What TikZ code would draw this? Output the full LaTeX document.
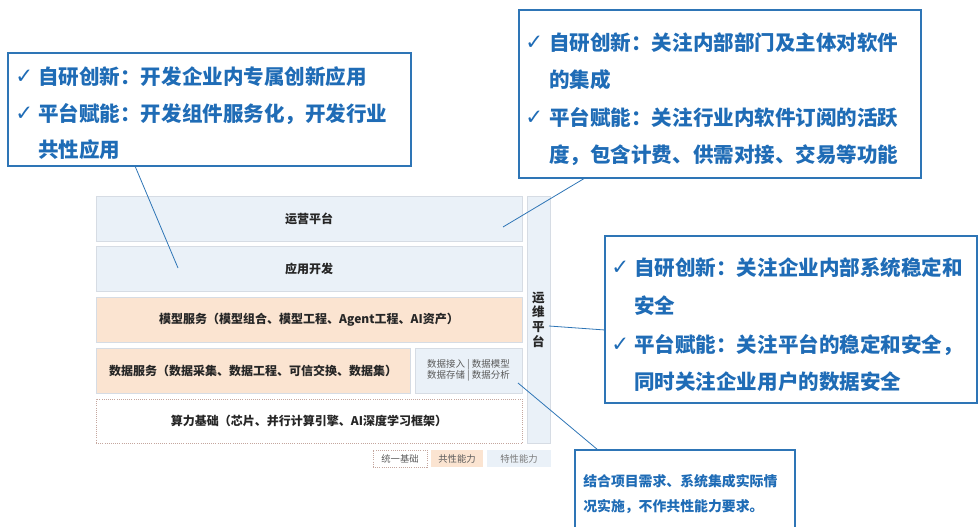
\documentclass[tikz,border=0pt]{standalone}
\usepackage{fontspec}
\setmainfont{Noto Sans CJK SC}
\newfontfamily\symfont{DejaVu Sans}
\definecolor{cblue}{RGB}{31,108,182}
\definecolor{lineblue}{RGB}{46,117,182}
\definecolor{lbfill}{RGB}{234,241,248}
\definecolor{pfill}{RGB}{251,228,209}
\definecolor{bgray}{RGB}{214,220,228}
\definecolor{dashbrown}{RGB}{196,166,158}
\definecolor{tgray}{RGB}{90,90,90}
\begin{document}
\begin{tikzpicture}[x=0.75pt,y=-0.75pt,
  layer/.style={draw=bgray, line width=0.6pt, inner sep=0pt, font=\fontsize{9}{11}\selectfont\bfseries, text=black!85},
  bluelayer/.style={layer, fill=lbfill},
  peachlayer/.style={layer, fill=pfill},
  baselayer/.style={layer, draw=dashbrown, densely dotted, fill=white},
  legendbox/.style={inner sep=0pt, font=\fontsize{7}{8}\selectfont, text=tgray, minimum height=12.75pt},
  callout/.style={draw=lineblue, line width=0.9pt, fill=white, inner sep=0pt},
  ctext/.style={anchor=base west, inner sep=0pt, text=cblue, font=\fontsize{15.4}{18}\selectfont\bfseries},
  cstext/.style={anchor=base west, inner sep=0pt, text=cblue, font=\fontsize{10.4}{12}\selectfont\bfseries},
  checkmark/.style={anchor=base west, inner sep=0pt, text=cblue, font=\symfont\fontsize{16}{18}\selectfont},
  link/.style={draw=lineblue, line width=0.6pt}
]
\useasboundingbox (0,0) rectangle (978,527);

% main layers
\node[bluelayer, minimum width=319.5pt, minimum height=33.75pt] (yy) at (309,218.5) {运营平台};
\node[bluelayer, minimum width=319.5pt, minimum height=33.75pt] (kf) at (309,269) {应用开发};
\node[peachlayer, minimum width=319.5pt, minimum height=33.75pt] (mx) at (309,319.5) {模型服务（模型组合、模型工程、Agent工程、AI资产）};
\node[peachlayer, minimum width=235.5pt, minimum height=33.75pt] (sj) at (253,370.5) {数据服务（数据采集、数据工程、可信交换、数据集）};
\node[bluelayer, minimum width=80.25pt, minimum height=33.75pt, font=\fontsize{7.1}{8}\selectfont, text=tgray, align=center] (sjx) at (468.5,370.5) {数据接入 | 数据模型\\数据存储 | 数据分析};
\node[baselayer, minimum width=319.5pt, minimum height=33pt] (sl) at (309,421) {算力基础（芯片、并行计算引擎、AI深度学习框架）};
\node[bluelayer, minimum width=17.25pt, minimum height=185.25pt, align=center, font=\fontsize{9.4}{11}\selectfont\bfseries] (yw) at (538.5,319.5) {运\\维\\平\\台};

% legend
\node[legendbox, draw=dashbrown, densely dotted, line width=0.6pt, minimum width=40.5pt] (lg1) at (400,458.5) {统一基础};
\node[legendbox, fill=pfill, minimum width=39pt] (lg2) at (457,458.5) {共性能力};
\node[legendbox, fill=lbfill, minimum width=48pt, text=tgray!80] (lg3) at (519,458.5) {特性能力};

% callout 1
\node[callout, minimum width=302.25pt, minimum height=84.75pt] (c1box) at (209.5,109.5) {};
\node[checkmark] (c1k1) at (15,84) {✓};
\node[ctext] (c1t1) at (38,85) {自研创新：开发企业内专属创新应用};
\node[checkmark] (c1k2) at (15,121) {✓};
\node[ctext] (c1t2) at (38,122) {平台赋能：开发组件服务化，开发行业};
\node[ctext] (c1t3) at (38,158) {共性应用};

% callout 2
\node[callout, minimum width=301.5pt, minimum height=126pt] (c2box) at (720,94) {};
\node[checkmark] (c2k1) at (525,50) {✓};
\node[ctext] (c2t1) at (549,51) {自研创新：关注内部部门及主体对软件};
\node[ctext] (c2t2) at (549,88) {的集成};
\node[checkmark] (c2k2) at (525,125) {✓};
\node[ctext] (c2t3) at (549,126) {平台赋能：关注行业内软件订阅的活跃};
\node[ctext] (c2t4) at (549,163) {度，包含计费、供需对接、交易等功能};

% callout 3
\node[callout, minimum width=279pt, minimum height=125.25pt] (c3box) at (791,319.5) {};
\node[checkmark] (c3k1) at (611,275) {✓};
\node[ctext] (c3t1) at (634,276) {自研创新：关注企业内部系统稳定和};
\node[ctext] (c3t2) at (634,314) {安全};
\node[checkmark] (c3k2) at (611,351) {✓};
\node[ctext] (c3t3) at (634,352) {平台赋能：关注平台的稳定和安全，};
\node[ctext] (c3t4) at (634,389) {同时关注企业用户的数据安全};

% callout 4
\node[callout, minimum width=165pt, minimum height=63.75pt] (c4box) at (685,492.5) {};
\node[cstext] (c4t1) at (583,486) {结合项目需求、系统集成实际情};
\node[cstext] (c4t2) at (583,511) {况实施，不作共性能力要求。};

% connectors
\coordinate (c1s) at (135,166);
\coordinate (c1e) at (178,268);
\coordinate (c2s) at (585,178);
\coordinate (c2e) at (503,227);
\coordinate (c3s) at (549,326);
\coordinate (c3e) at (605,330);
\coordinate (c4s) at (518,383);
\coordinate (c4e) at (598,450);
\draw[link] (c1s) -- (c1e);
\draw[link] (c2s) -- (c2e);
\draw[link] (c3s) -- (c3e);
\draw[link] (c4s) -- (c4e);
\end{tikzpicture}
\end{document}
